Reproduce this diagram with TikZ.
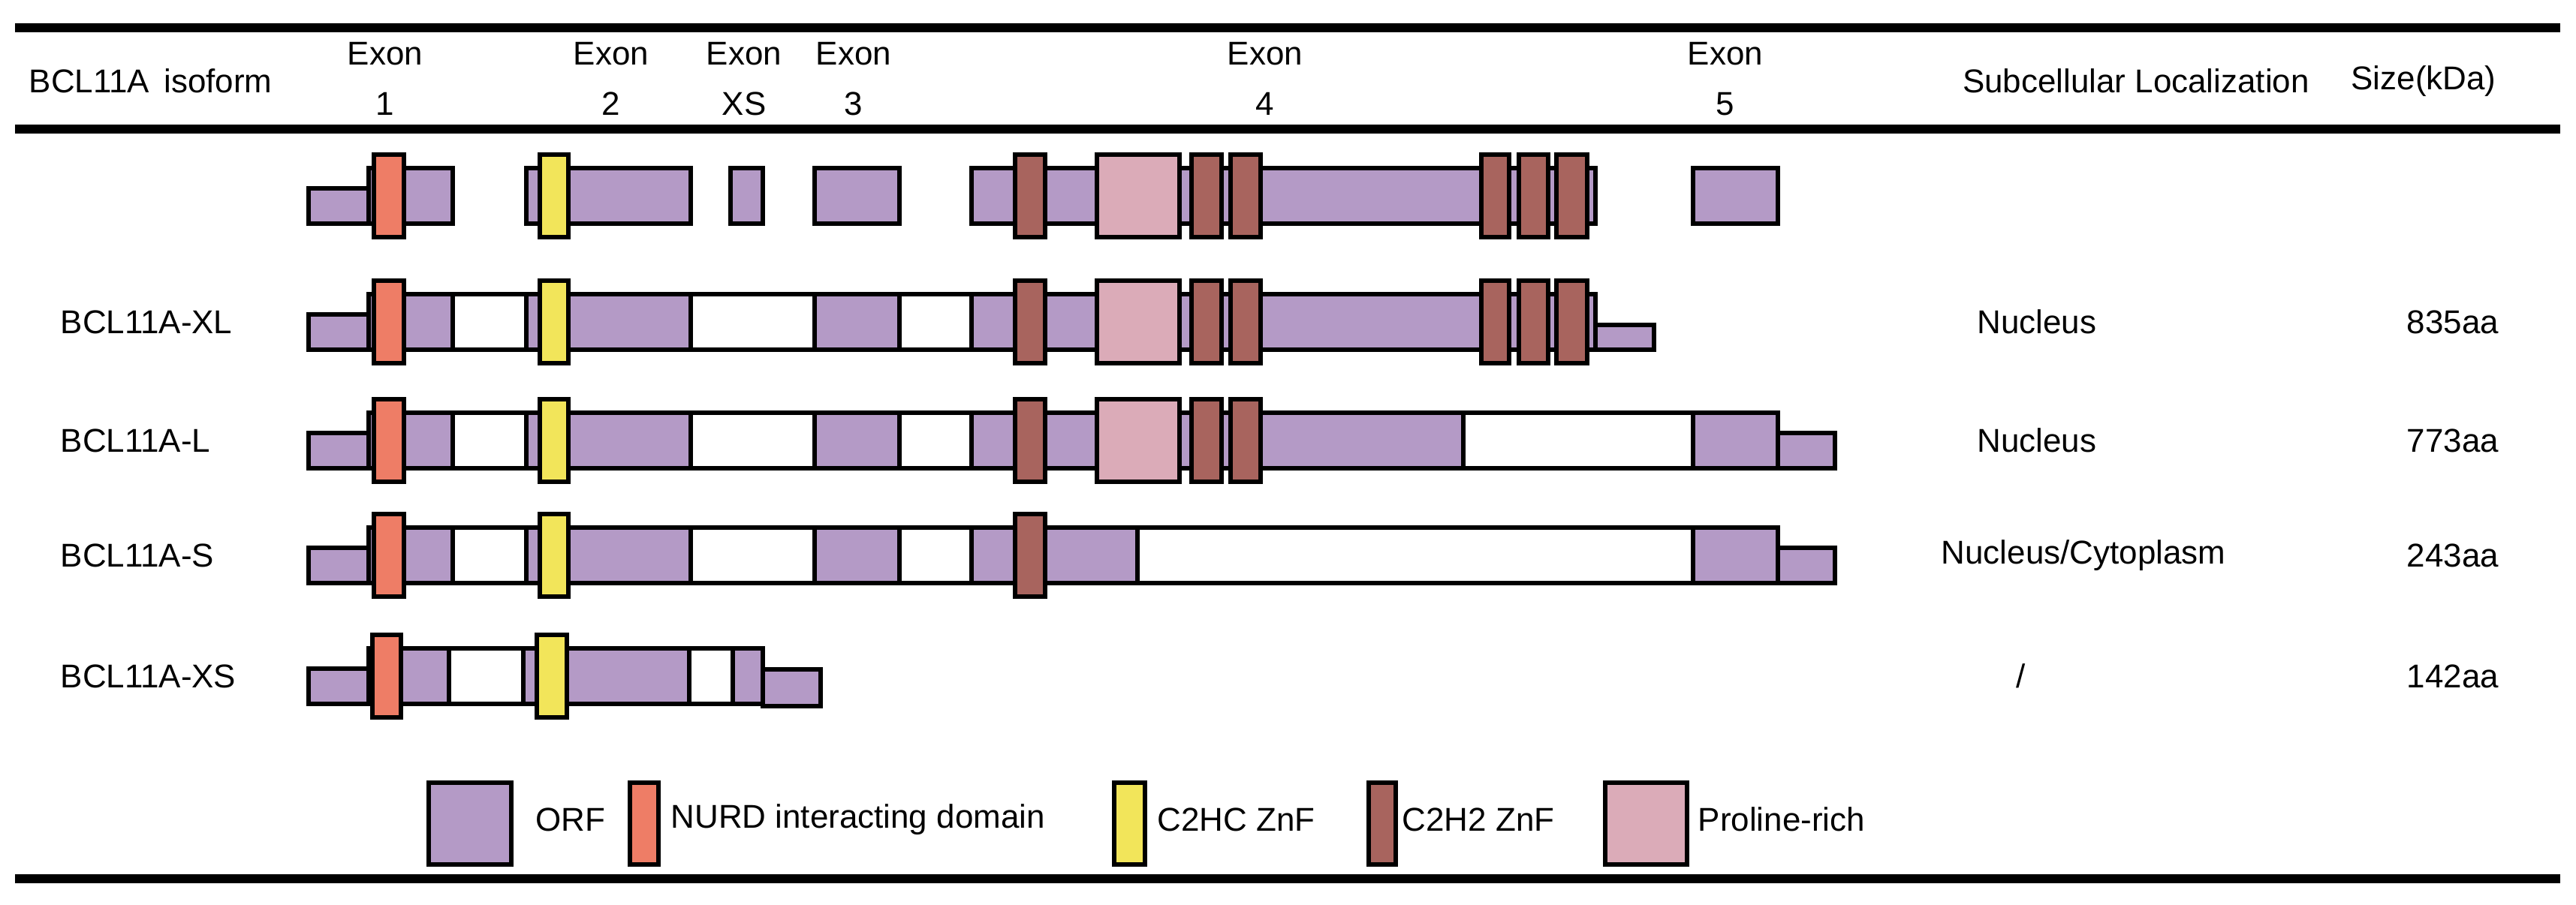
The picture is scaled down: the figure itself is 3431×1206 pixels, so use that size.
\documentclass[tikz,border=0pt]{standalone}
\usepackage{fontspec}
\setmainfont{Liberation Sans}
\definecolor{orfc}{HTML}{B49AC6}
\definecolor{nurdc}{HTML}{EE7D66}
\definecolor{c2hcc}{HTML}{F2E55A}
\definecolor{c2h2c}{HTML}{A8645E}
\definecolor{proc}{HTML}{DBABB8}
\begin{document}
\begin{tikzpicture}[x=0.1mm,y=-0.1mm,
  box/.style={draw=black,line width=1.6pt},
  orf/.style={box,fill=orfc},
  gap/.style={box,fill=white},
  nurd/.style={box,fill=nurdc},
  c2hc/.style={box,fill=c2hcc},
  c2h2/.style={box,fill=c2h2c},
  pro/.style={box,fill=proc},
  rule/.style={line width=3.4pt},
  txt/.style={font=\fontsize{12.5}{15}\selectfont,inner sep=0pt},
  hd/.style={txt,align=center}]
\useasboundingbox (0,0) rectangle (3431,1206);
% rules
\draw[rule] (20,37) -- (3410,37);
\draw[rule] (20,172) -- (3410,172);
\draw[rule] (20,1171) -- (3410,1171);
% header
\node[txt,anchor=west] (h0) at (38,108) {BCL11A\, isoform};
\node[hd] (h1) at (513,105) {Exon\\[4pt]1};
\node[hd] (h2) at (814,105) {Exon\\[4pt]2};
\node[hd] (h3) at (991,105) {Exon\\[4pt]XS};
\node[hd] (h4) at (1137,105) {Exon\\[4pt]3};
\node[hd] (h5) at (1685,105) {Exon\\[4pt]4};
\node[hd] (h6) at (2298,105) {Exon\\[4pt]5};
\node[txt] (h7) at (2845,108) {Subcellular Localization};
\node[txt] (h8) at (3228,108) {Size(kDa)};
% common pieces
\newcommand{\utrL}{\draw[orf] (411,-10) rectangle (491,37);}
\newcommand{\dom}[3]{\draw[#1] (#2,-55) rectangle (#3,55);}
\newcommand{\seg}[3]{\draw[#1] (#2,-37) rectangle (#3,37);}
% Row 1: genomic
\begin{scope}[yshift=-26.1mm]
\utrL
\seg{orf}{491}{603}\seg{orf}{701}{920}\seg{orf}{973}{1016}\seg{orf}{1085}{1198}
\seg{orf}{1294}{2125}\seg{orf}{2255}{2368}
\dom{nurd}{498}{538}\dom{c2hc}{719}{757}
\dom{c2h2}{1352}{1392}\dom{pro}{1461}{1571}\dom{c2h2}{1587}{1627}\dom{c2h2}{1639}{1679}
\dom{c2h2}{1973}{2010}\dom{c2h2}{2023}{2062}\dom{c2h2}{2073}{2114}
\end{scope}
% XL
\begin{scope}[yshift=-42.9mm]
\utrL
\seg{orf}{491}{603}\seg{gap}{603}{701}\seg{orf}{701}{920}\seg{gap}{920}{1085}
\seg{orf}{1085}{1198}\seg{gap}{1198}{1294}\seg{orf}{1294}{2125}
\draw[orf] (2125,4) rectangle (2203,37);
\dom{nurd}{498}{538}\dom{c2hc}{719}{757}
\dom{c2h2}{1352}{1392}\dom{pro}{1461}{1571}\dom{c2h2}{1587}{1627}\dom{c2h2}{1639}{1679}
\dom{c2h2}{1973}{2010}\dom{c2h2}{2023}{2062}\dom{c2h2}{2073}{2114}
\end{scope}
\node[txt,anchor=west] (r1) at (80,429) {BCL11A-XL};
\node[txt] (l1) at (2713,429) {Nucleus};
\node[txt] (s1) at (3267,429) {835aa};
% L
\begin{scope}[yshift=-58.7mm]
\utrL
\seg{orf}{491}{603}\seg{gap}{603}{701}\seg{orf}{701}{920}\seg{gap}{920}{1085}
\seg{orf}{1085}{1198}\seg{gap}{1198}{1294}\seg{orf}{1294}{1949}\seg{gap}{1949}{2255}
\seg{orf}{2255}{2368}
\draw[orf] (2368,-10) rectangle (2444,37);
\dom{nurd}{498}{538}\dom{c2hc}{719}{757}
\dom{c2h2}{1352}{1392}\dom{pro}{1461}{1571}\dom{c2h2}{1587}{1627}\dom{c2h2}{1639}{1679}
\end{scope}
\node[txt,anchor=west] (r2) at (80,587) {BCL11A-L};
\node[txt] (l2) at (2713,587) {Nucleus};
\node[txt] (s2) at (3267,587) {773aa};
% S
\begin{scope}[yshift=-74.0mm]
\utrL
\seg{orf}{491}{603}\seg{gap}{603}{701}\seg{orf}{701}{920}\seg{gap}{920}{1085}
\seg{orf}{1085}{1198}\seg{gap}{1198}{1294}\seg{orf}{1294}{1515}\seg{gap}{1515}{2255}
\seg{orf}{2255}{2368}
\draw[orf] (2368,-10) rectangle (2444,37);
\dom{nurd}{498}{538}\dom{c2hc}{719}{757}
\dom{c2h2}{1352}{1392}
\end{scope}
\node[txt,anchor=west] (r3) at (80,740) {BCL11A-S};
\node[txt] (l3) at (2775,740) {Nucleus/Cytoplasm};
\node[txt] (s3) at (3267,740) {243aa};
% XS
\begin{scope}[yshift=-90.1mm]
\utrL
\seg{orf}{491}{598}\seg{gap}{598}{697}\seg{orf}{697}{918}\seg{gap}{918}{976}
\seg{orf}{976}{1016}
\draw[orf] (1016,-9) rectangle (1093,40);
\dom{nurd}{496}{534}\dom{c2hc}{715}{755}
\end{scope}
\node[txt,anchor=west] (r4) at (80,901) {BCL11A-XS};
\node[txt] (l4) at (2692,901) {/};
\node[txt] (s4) at (3267,901) {142aa};
% legend
\draw[orf] (571,1043) rectangle (681,1152);
\node[txt,anchor=west] (k1) at (713,1092) {ORF};
\draw[nurd] (839,1043) rectangle (877,1152);
\node[txt,anchor=west] (k2) at (893,1092) {NURD interacting domain};
\draw[c2hc] (1484,1043) rectangle (1525,1152);
\node[txt,anchor=west] (k3) at (1541,1092) {C2HC ZnF};
\draw[c2h2] (1823,1043) rectangle (1859,1152);
\node[txt,anchor=west] (k4) at (1867,1092) {C2H2 ZnF};
\draw[pro] (2138,1043) rectangle (2247,1152);
\node[txt,anchor=west] (k5) at (2261,1092) {Proline-rich};
\end{tikzpicture}
\end{document}
